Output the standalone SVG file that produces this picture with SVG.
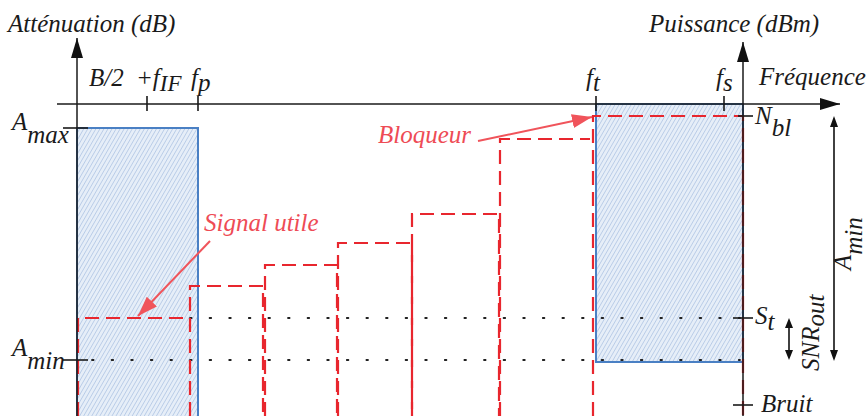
<svg xmlns="http://www.w3.org/2000/svg" width="868" height="416" viewBox="0 0 868 416">
<defs>
<pattern id="hatch" patternUnits="userSpaceOnUse" width="3.5" height="3.5" patternTransform="rotate(30)">
<rect width="3.5" height="3.5" fill="#e6eef8"/>
<line x1="0" y1="0" x2="0" y2="3.5" stroke="#a9c1e2" stroke-width="1.3"/>
</pattern>
<marker id="axh" viewBox="0 0 20 12" refX="20" refY="6" markerWidth="20" markerHeight="12" markerUnits="userSpaceOnUse" orient="auto"><path d="M0,0 L20,6 L0,12 z" fill="#111"/></marker>
<marker id="rh" viewBox="0 0 20 14" refX="20" refY="7" markerWidth="20" markerHeight="14" markerUnits="userSpaceOnUse" orient="auto"><path d="M0,0 L20,7 L0,14 z" fill="#f0545b"/></marker>
</defs>
<style>
.lbl{font-family:'Liberation Serif','Times New Roman',serif;font-style:italic;fill:#1a1a1a;font-size:25px}
.red{fill:#ee4b55}
.ax{stroke:#1a1a1a;stroke-width:1.5;fill:none}
.tick{stroke:#1a1a1a;stroke-width:1.6}
.blue{fill:url(#hatch);stroke:#4a80c4;stroke-width:2}
.dash{fill:none;stroke:#e8262e;stroke-width:2.2;stroke-dasharray:14,7}
.dot{stroke:#222;stroke-width:1.8;stroke-dasharray:1.6,18;stroke-linecap:round}
.rarrow{stroke:#f0545b;stroke-width:2;fill:none}
</style>
<g id="filters">
<rect id="filter-left" class="blue" x="77" y="128" width="121" height="300"/>
<rect id="filter-right" class="blue" x="596" y="104" width="147" height="258"/>
</g>
<g id="levels">
<line class="dot" x1="92" y1="318" x2="740" y2="318"/>
<line class="dot" x1="92" y1="360" x2="740" y2="360"/>
</g>
<g id="signals">
<path class="dash" d="M78,416 V318 H190"/>
<path class="dash" d="M190,416 V286 H263 V416"/>
<path class="dash" d="M265,416 V265 H337 V416"/>
<path class="dash" d="M338,416 V243 H412 V416"/>
<path class="dash" d="M412,416 V214 H499 V416"/>
<path class="dash" d="M500,416 V139 H590"/>
<path class="dash" d="M593,416 V116 H743 V416"/>
</g>
<g id="axes">
<line class="ax" x1="77" y1="416" x2="77" y2="38" marker-end="url(#axh)"/>
<line class="ax" x1="743" y1="416" x2="743" y2="42" marker-end="url(#axh)"/>
<line class="ax" x1="57" y1="104" x2="840" y2="104" marker-end="url(#axh)"/>
<line class="tick" x1="147" y1="96" x2="147" y2="111"/>
<line class="tick" x1="198" y1="96" x2="198" y2="111"/>
<line class="tick" x1="596" y1="96" x2="596" y2="111"/>
<line class="tick" x1="724" y1="96" x2="724" y2="111"/>
<line class="tick" x1="63" y1="128" x2="88" y2="128"/>
<line class="tick" x1="63" y1="360" x2="88" y2="360"/>
<line class="tick" x1="738" y1="116" x2="753" y2="116"/>
<line class="tick" x1="733" y1="318" x2="753" y2="318"/>
<line class="tick" x1="733" y1="405" x2="753" y2="405"/>
</g>
<g id="connectors">
<line class="rarrow" x1="210" y1="241" x2="138" y2="316" marker-end="url(#rh)"/>
<line class="rarrow" x1="478" y1="141" x2="592" y2="117" marker-end="url(#rh)"/>
<line stroke="#111" stroke-width="1.6" x1="834" y1="126" x2="834" y2="351"/>
<path d="M834,116 l-4,11 h8 z M834,361 l-4,-11 h8 z" fill="#111"/>
<line stroke="#111" stroke-width="1.6" x1="789" y1="327" x2="789" y2="351"/>
<path d="M789,318 l-4,10 h8 z M789,360 l-4,-10 h8 z" fill="#111"/>
</g>
<g id="labels">
<text class="lbl" x="8" y="32">Atténuation (dB)</text>
<text class="lbl" x="649" y="32">Puissance (dBm)</text>
<text class="lbl" x="759" y="85">Fréquence</text>
<text class="lbl" x="89" y="86">B/2</text>
<text class="lbl" x="136" y="86">+f<tspan dy="5" font-size="23">IF</tspan></text>
<text class="lbl" x="191" y="86">f<tspan dy="5">p</tspan></text>
<text class="lbl" x="586" y="86">f<tspan dy="5">t</tspan></text>
<text class="lbl" x="716" y="86">f<tspan dy="5">s</tspan></text>
<text class="lbl" x="12" y="130">A<tspan dy="13">max</tspan></text>
<text class="lbl" x="12" y="356">A<tspan dy="13">min</tspan></text>
<text class="lbl" x="755" y="124">N<tspan dy="12">bl</tspan></text>
<text class="lbl" x="755" y="324">S<tspan dy="6">t</tspan></text>
<text class="lbl" x="761" y="412">Bruit</text>
<text class="lbl" transform="translate(819,371) rotate(-90)">SNR<tspan dy="5">out</tspan></text>
<text class="lbl" transform="translate(851,270) rotate(-90)">A<tspan dy="11">min</tspan></text>
<text class="lbl red" x="204" y="231">Signal utile</text>
<text class="lbl red" x="378" y="143">Bloqueur</text>
</g>
</svg>
